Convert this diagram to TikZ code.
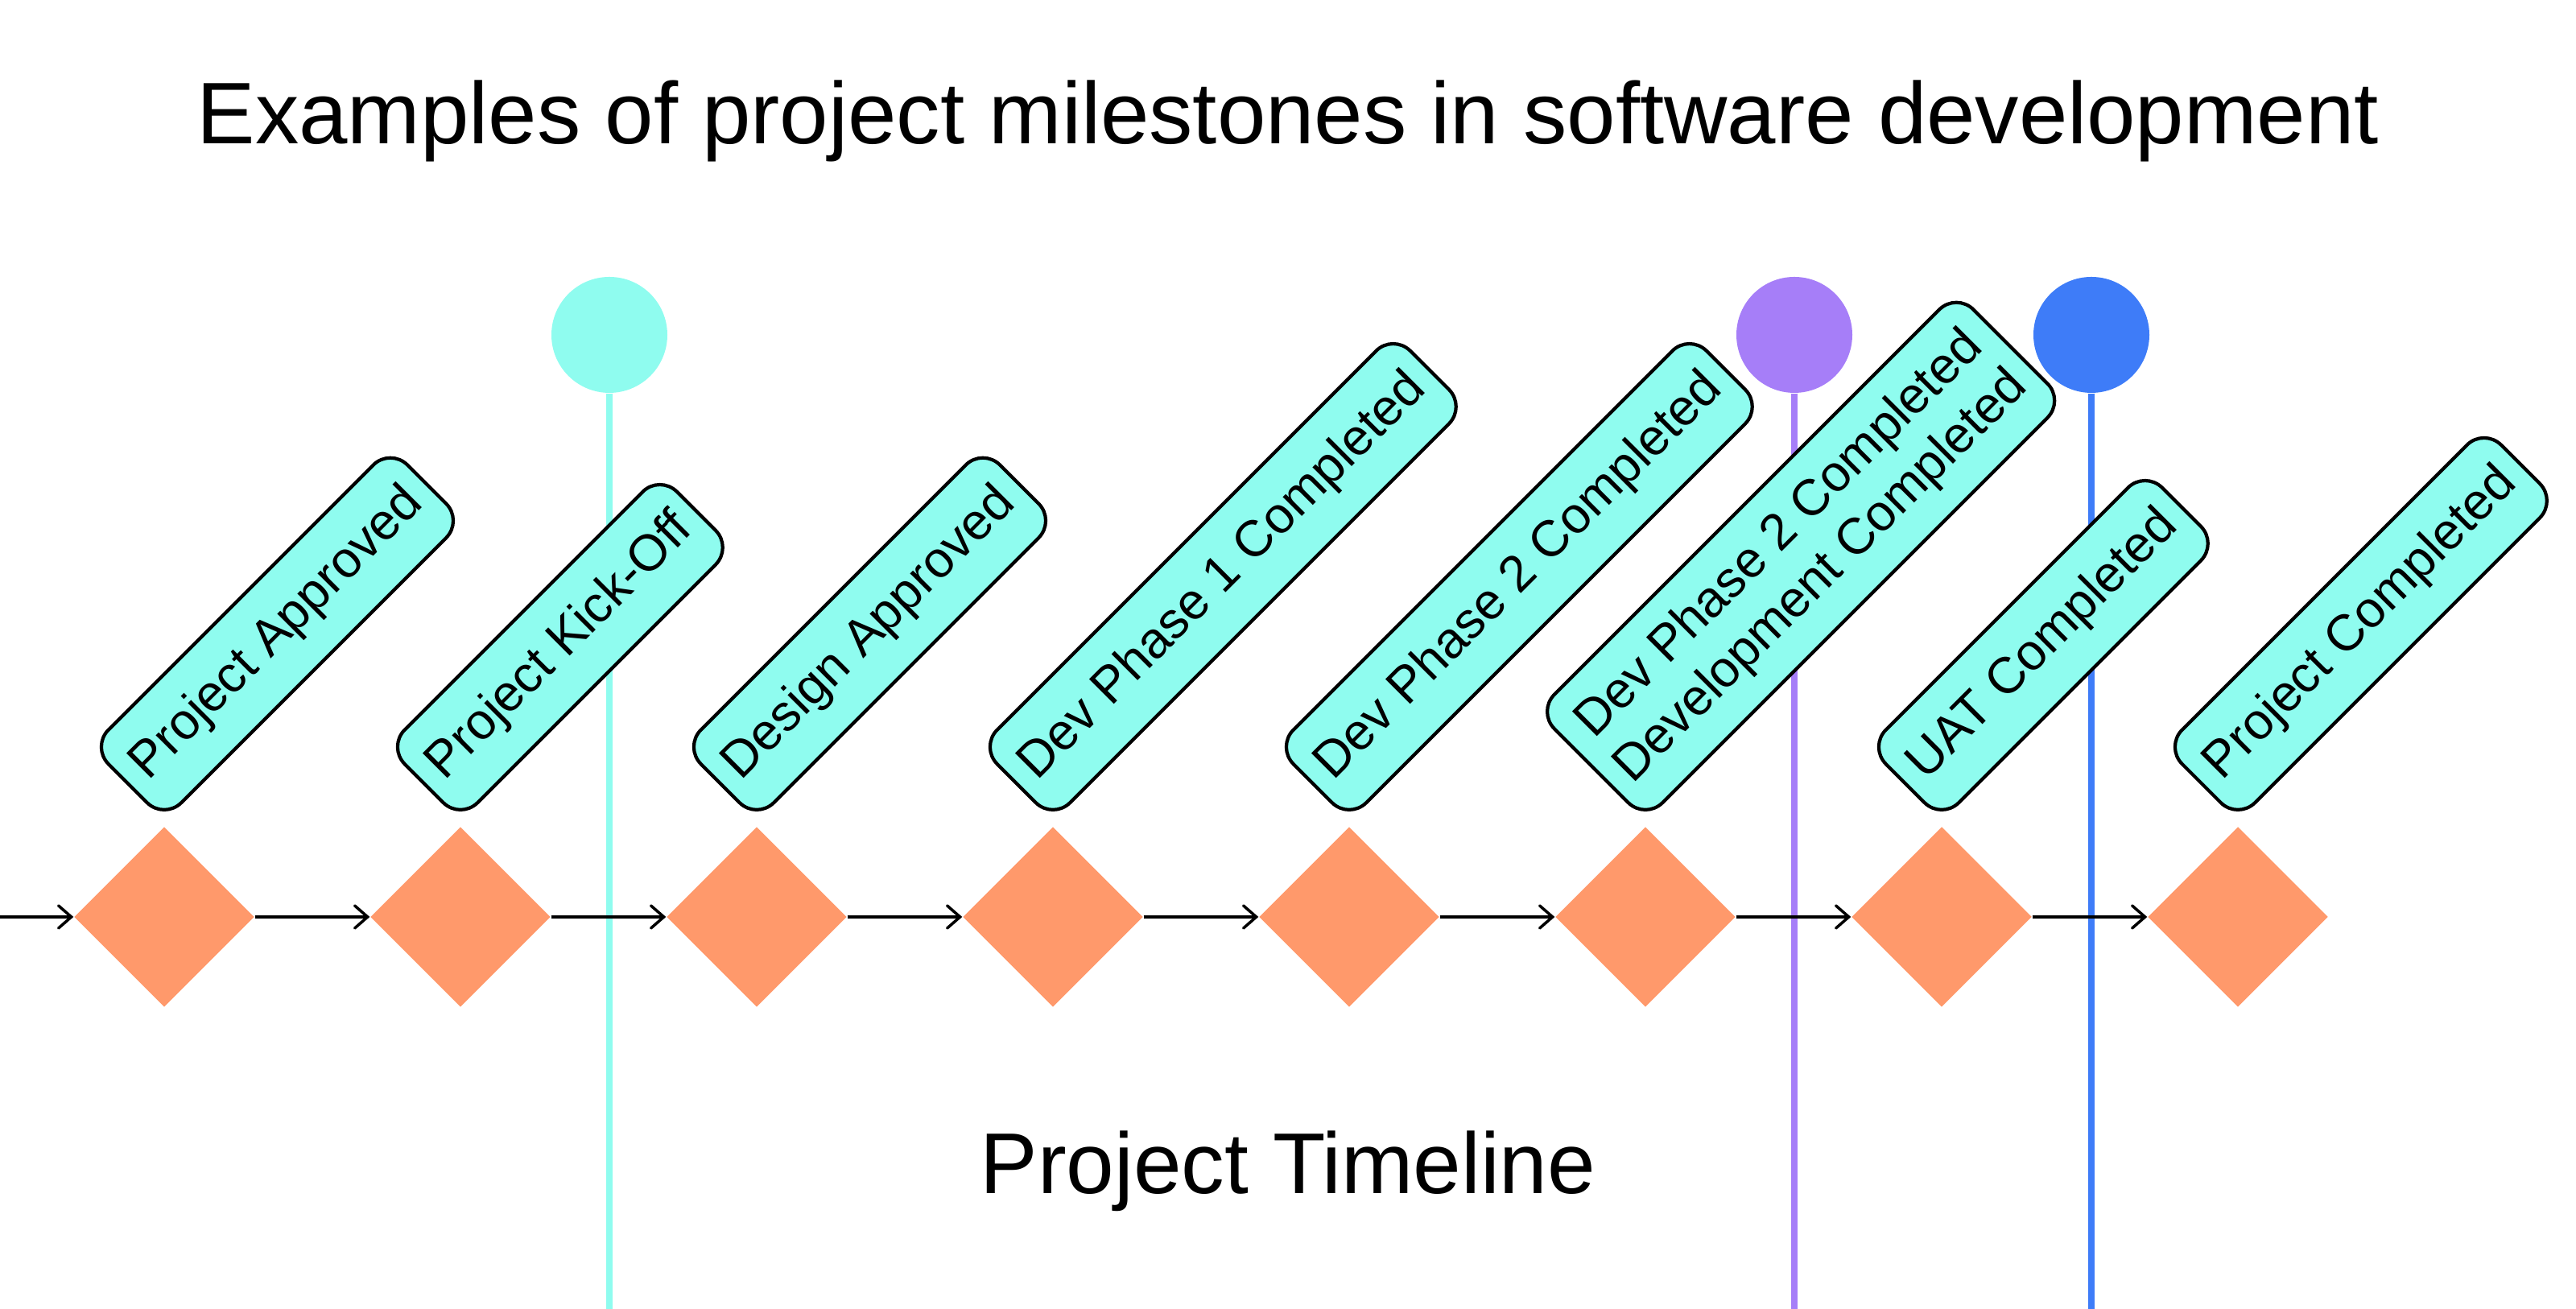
\documentclass[tikz,border=0pt]{standalone}
\usepackage{fontspec}
\setmainfont{Liberation Sans}
\usepackage{xcolor}
\usepackage{tikz}
\usetikzlibrary{arrows.meta,positioning,shapes.geometric}

\definecolor{tagcyan}{RGB}{143,252,239}
\definecolor{stoneorange}{RGB}{255,153,107}
\definecolor{gatepurple}{RGB}{166,126,248}
\definecolor{gateblue}{RGB}{62,124,248}

\begin{document}
\begin{tikzpicture}[
    x=1cm,y=1cm,
    >={Straight Barb[length=1.6mm,width=2.8mm,line cap=round]},
    stone/.style={
        shape=diamond,
        fill=stoneorange,
        minimum width=2.24cm,
        minimum height=2.24cm,
        inner sep=0pt
    },
    tag/.style={
        draw=black,
        line width=1.2pt,
        fill=tagcyan,
        rounded corners=0.3cm,
        rotate=45,
        anchor=south west,
        minimum height=1.28cm,
        inner xsep=0.2cm,
        align=center,
        font=\fontsize{18}{18.5}\selectfont
    },
    dot/.style={
        circle,
        minimum size=1.44cm,
        inner sep=0pt
    },
    pole/.style={line width=2.2pt},
    link/.style={->, line width=1pt}
]
\useasboundingbox (0,0) rectangle (32,16.26);

\coordinate (bot)   at (0,0);
\coordinate (start) at (0,4.87);

% title and axis caption
\node[anchor=base, font=\fontsize{30.9}{36}\selectfont] (title) at (16,14.47)
    {Examples of project milestones in software development};
\node[anchor=base, font=\fontsize{30.5}{36}\selectfont] (caption) at (16,1.43)
    {Project Timeline};

% vertical markers
\node[dot, fill=tagcyan]    (g1) at (7.57,12.10) {};
\node[dot, fill=gatepurple] (g2) at (22.29,12.10) {};
\node[dot, fill=gateblue]   (g3) at (25.98,12.10) {};

\draw[pole, tagcyan]    (g1.south) -- (g1 |- bot);
\draw[pole, gatepurple] (g2.south) -- (g2 |- bot);
\draw[pole, gateblue]   (g3.south) -- (g3 |- bot);

% milestones
\node[stone] (m1) at (2.04,4.87) {};
\node[stone] (m2) at (5.72,4.87) {};
\node[stone] (m3) at (9.40,4.87) {};
\node[stone] (m4) at (13.08,4.87) {};
\node[stone] (m5) at (16.76,4.87) {};
\node[stone] (m6) at (20.44,4.87) {};
\node[stone] (m7) at (24.12,4.87) {};
\node[stone] (m8) at (27.80,4.87) {};

\draw[link] (start)   -- (m1.west);
\draw[link] (m1.east) -- (m2.west);
\draw[link] (m2.east) -- (m3.west);
\draw[link] (m3.east) -- (m4.west);
\draw[link] (m4.east) -- (m5.west);
\draw[link] (m5.east) -- (m6.west);
\draw[link] (m6.east) -- (m7.west);
\draw[link] (m7.east) -- (m8.west);

% labels
\node[tag] (t1) at ([yshift=0.5mm]m1.north) {Project Approved};
\node[tag] (t2) at ([yshift=0.5mm]m2.north) {Project Kick-Off};
\node[tag] (t3) at ([yshift=0.5mm]m3.north) {Design Approved};
\node[tag] (t4) at ([yshift=0.5mm]m4.north) {Dev Phase 1 Completed};
\node[tag] (t5) at ([yshift=0.5mm]m5.north) {Dev Phase 2 Completed};
\node[tag, minimum height=1.9cm, font=\fontsize{18}{21}\selectfont] (t6)
    at ([yshift=0.5mm]m6.north)
    {Dev Phase 2 Completed\\Development Completed};
\node[tag] (t7) at ([yshift=0.5mm]m7.north) {UAT Completed};
\node[tag] (t8) at ([yshift=0.5mm]m8.north) {Project Completed};

\end{tikzpicture}
\end{document}
